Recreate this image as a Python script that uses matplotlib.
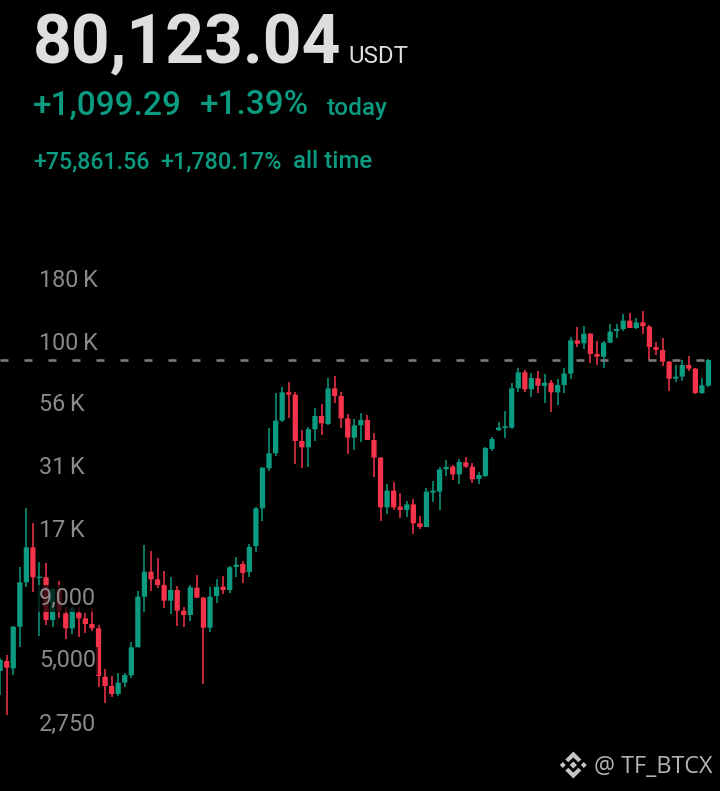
import matplotlib.pyplot as plt
from matplotlib.patches import Polygon

# monthly candles, oldest first
opens = [4259, 4680, 4367, 6471, 9832, 13680, 10240, 10310, 6891, 9146, 7338, 6370, 7385, 7000, 6636, 6370, 4037, 3697, 3428, 3815, 4088, 5324, 8588, 10870, 10110, 9588, 8270, 9146, 7525, 7224, 9349, 8507, 6410, 8642, 9438, 9146, 11360,
         11690, 10840, 13850, 19760, 28830, 33210, 45200, 59050, 57770, 37310, 35150, 41650, 47240, 43800, 61330, 57050, 46210, 38500, 43250, 45490, 37660, 31880, 19950, 23350, 20080, 19460, 20520, 17160, 16570, 22910, 23130, 28560, 29280, 27240, 30510, 29280, 26070,
         26820, 34600, 41390, 42180, 42310, 61330, 71320, 60750, 67390, 62690, 64690, 59050, 63290, 70430, 96460, 93770, 102700, 84790, 82680, 94360, 105300, 107300, 116100, 108400, 114300, 109700, 90580, 88050, 78870, 67180, 68460, 76430, 73830, 58680, 62890]
highs = [4799, 4953, 6512, 11330, 19760, 17160, 11950, 11760, 9291, 9988, 7766, 7815, 7766, 7385, 7693, 6573, 4326, 4062, 4192, 4166, 5617, 9088, 13980, 13210, 12330, 10940, 10370, 9497, 7766, 9588, 10540, 8588, 9438, 10110, 10440, 11470, 12450,
         12020, 14120, 19950, 29280, 42050, 58500, 61910, 65310, 59430, 41390, 42440, 50780, 52900, 67390, 69110, 59050, 48140, 45770, 48440, 47530, 40110, 31980, 24790, 25260, 22770, 21180, 21520, 18440, 24020, 25580, 29280, 31190, 29840, 31580, 31980, 30410, 27850,
         35260, 38740, 44780, 49520, 64290, 74060, 72910, 70650, 72220, 70210, 66340, 66760, 74060, 99860, 109000, 110400, 103700, 95550, 96160, 112500, 112500, 123700, 125200, 118700, 127200, 111500, 95250, 98300, 79370, 76430, 80120, 83200, 74300, 67390, 80630]
lows = [3396, 2812, 4101, 5324, 9379, 9003, 5944, 6573, 6430, 7000, 5760, 6038, 5888, 6115, 6231, 3650, 3139, 3343, 3364, 3673, 3974, 5324, 7455, 9060, 9291, 7693, 7292, 6512, 6430, 6848, 8454, 3767, 6134, 8115, 8807, 8863, 10370,
        9770, 10340, 13090, 17540, 28110, 32390, 44780, 46500, 30030, 28830, 29280, 37310, 39480, 43390, 53230, 42050, 32900, 34270, 37080, 37540, 26650, 17590, 18740, 19460, 18100, 18160, 15460, 16210, 16520, 21050, 19460, 26900, 25820, 24790, 29010, 25180, 24870,
        26560, 33950, 41130, 38380, 41780, 59050, 59050, 56330, 58500, 53230, 48900, 52400, 58870, 66760, 90300, 89170, 78130, 76430, 74300, 93770, 98300, 105300, 108000, 107300, 102100, 80120, 83990, 75710, 59990, 64900, 65720, 72450, 58320, 57950, 62300]
closes = [4725, 4395, 6471, 9832, 13680, 10310, 10370, 6891, 9232, 7525, 6370, 7693, 7000, 6636, 6370, 4062, 3697, 3428, 3815, 4101, 5324, 8588, 10870, 10110, 9588, 8270, 9146, 7525, 7224, 9379, 8507, 6410, 8588, 9438, 9146, 11330, 11620,
          10740, 13720, 19760, 29010, 33210, 45200, 59050, 57770, 37310, 35150, 41650, 47240, 44080, 61330, 57050, 46210, 38500, 43250, 45490, 37660, 31880, 19950, 23350, 19950, 19460, 20520, 17160, 16570, 23130, 23350, 28560, 29190, 27240, 30600, 29280, 25990, 27070,
          34920, 38020, 42310, 42850, 61330, 71320, 60750, 67610, 62890, 64690, 59050, 63290, 70430, 96460, 93470, 102700, 84790, 82680, 94360, 104700, 107300, 116100, 108400, 114300, 110100, 90580, 88050, 78870, 67180, 68460, 76430, 73830, 58680, 63090, 80120]

y_ticks = [180000, 100000, 56000, 31000, 17000, 9000, 5000, 2750]
y_labels = ["180\u2009K", "100\u2009K", "56\u2009K", "31\u2009K", "17\u2009K", "9,000", "5,000", "2,750"]
last_price = 80123.04

GREEN = "#0b9b80"
RED = "#f5334a"
GRAY = "#8a8a8a"
FONT = "Roboto"

fig = plt.figure(figsize=(7.2, 7.91), dpi=100, facecolor="black")
ax = fig.add_axes([0, 0, 1, 1], facecolor="black")
ax.set_yscale("log")
ax.set_xlim(-0.02, 720 / 6.56)
ax.set_ylim(1372.6, 2393000)
ax.axis("off")

for i in range(len(opens)):
    c = GREEN if closes[i] >= opens[i] else RED
    ax.vlines(i, lows[i], highs[i], color=c, lw=1.1, zorder=2)
    lo, hi = min(opens[i], closes[i]), max(opens[i], closes[i])
    ax.bar(i, hi - lo, bottom=lo, width=0.8, color=c, lw=0, zorder=3, snap=False)

# current price line, 8px on / 16px off
ax.axhline(last_price, color="#787878", lw=1.9, zorder=4, dash_capstyle="butt",
           linestyle=(0, (8 * 0.72 / 1.9, 16 * 0.72 / 1.9)))

for v, lab in zip(y_ticks, y_labels):
    ax.annotate(lab, xy=(39 / 720, v), xycoords=("axes fraction", "data"),
                xytext=(0, -9.5), textcoords="offset points", ha="left", va="baseline",
                fontsize=16.8, family=[FONT, "DejaVu Sans"], color=GRAY, zorder=6,
                bbox=dict(boxstyle="square,pad=0.1", fc="black", ec="none", alpha=0.7))

# header and logo are placed in pixel coordinates on an overlay
ov = fig.add_axes([0, 0, 1, 1], facecolor="none")
ov.set_xlim(0, 720)
ov.set_ylim(791, 0)
ov.axis("off")

ov.text(33, 63, "80,123.04", fontsize=48.8, fontweight="bold", family=FONT, color="#dedede")
ov.text(348, 63, "USDT", fontsize=17.3, family=FONT, color="#dedede")
ov.text(33, 114.5, "+1,099.29", fontsize=24, fontweight="medium", family=FONT, color=GREEN)
ov.text(200, 114.5, "+1.39%", fontsize=24, fontweight="medium", family=FONT, color=GREEN)
ov.text(327, 114.5, "today", fontsize=17.6, fontweight="medium", family=FONT, color=GREEN)
ov.text(33, 168.5, "+75,861.56", fontsize=16.7, fontweight="medium", family=FONT, color=GREEN)
ov.text(160, 168.5, "+1,780.17%", fontsize=16.8, fontweight="medium", family=FONT, color=GREEN)
ov.text(293, 168.5, "all time", fontsize=17.3, fontweight="medium", family=FONT, color=GREEN)
ov.text(594, 773, "@ TF_BTCX", fontsize=16.8, family="Open Sans", color="#b4b4b4")

cx, cy = 573.3, 765
logo = "#c4c4c4"
for dx in (-10.5, 0, 10.5):
    r = 3 if dx else 3.6
    ov.add_patch(Polygon([(cx + dx - r, cy), (cx + dx, cy - r), (cx + dx + r, cy), (cx + dx, cy + r)], fc=logo, ec="none"))
for s in (-1, 1):
    ov.add_patch(Polygon([(cx, cy + s * 13.5), (cx + 8, cy + s * 5.5), (cx + 5, cy + s * 2.8), (cx, cy + s * 7.5),
                          (cx - 5, cy + s * 2.8), (cx - 8, cy + s * 5.5)], fc=logo, ec="none"))

fig.savefig("out.png", dpi=100, facecolor="black")
